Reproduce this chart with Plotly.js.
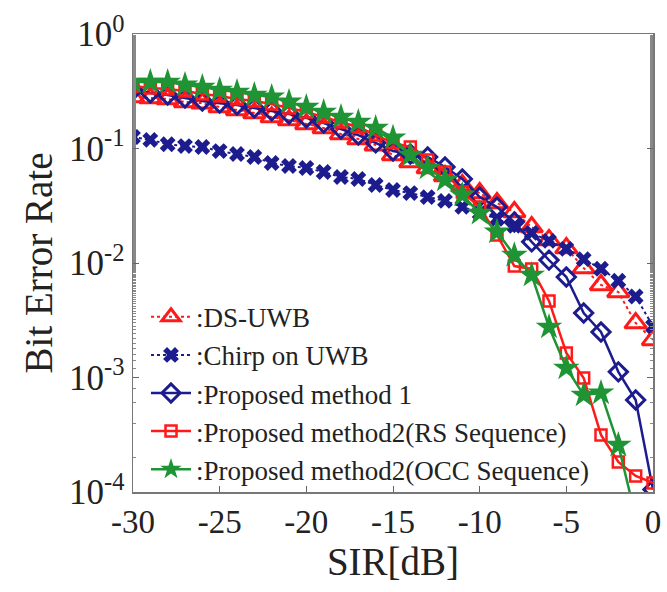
<!DOCTYPE html>
<html>
<head>
<meta charset="utf-8">
<script src="https://cdn.plot.ly/plotly-3.0.1.min.js"></script>
<style>html,body{margin:0;padding:0;background:#fff;}#chart{width:667px;height:592px;}</style>
</head>
<body>
<div id="chart"></div>
<script>
var sir = [-30,-29,-28,-27,-26,-25,-24,-23,-22,-21,-20,-19,-18,-17,-16,-15,-14,-13,-12,-11,-10,-9,-8,-7,-6,-5,-4,-3,-2,-1,0];

var dsUwb = [0.282,0.276,0.271,0.255,0.249,0.230,0.217,0.204,0.188,0.177,0.164,0.151,0.134,0.121,0.107,0.0878,0.0762,0.0676,0.0575,0.048,0.0408,0.0334,0.0279,0.0206,0.0159,0.0135,0.00904,0.00643,0.00558,0.00299,0.00213];

var chirp = [0.126,0.119,0.109,0.105,0.103,0.095,0.0895,0.0843,0.0747,0.0703,0.0676,0.0623,0.0564,0.0542,0.048,0.0434,0.0408,0.0376,0.0349,0.0309,0.0273,0.0243,0.0211,0.0183,0.0156,0.0133,0.0108,0.0089,0.0070,0.0051,0.0028];

var method1 = [0.324,0.305,0.293,0.276,0.260,0.249,0.240,0.226,0.213,0.200,0.185,0.167,0.148,0.131,0.112,0.0951,0.0895,0.0843,0.0689,0.0542,0.0377,0.0308,0.0228,0.0153,0.0106,0.00755,0.00366,0.00250,0.00112,0.000636,0.000105];

var method2RS = [0.352,0.338,0.331,0.318,0.299,0.288,0.271,0.260,0.245,0.226,0.208,0.188,0.170,0.154,0.131,0.112,0.103,0.0794,0.0623,0.0417,0.0308,0.0176,0.00941,0.00887,0.00466,0.00164,0.000990,0.000315,0.000183,0.000138,0.000120];

var method2OCC = [0.381,0.381,0.381,0.359,0.344,0.324,0.311,0.293,0.282,0.255,0.230,0.208,0.188,0.170,0.151,0.124,0.0878,0.0676,0.0531,0.0393,0.0273,0.0187,0.0117,0.00785,0.00276,0.00121,0.000703,0.000733,0.000257,0.0000605,0.00003];

var seriesNames = [':DS-UWB', ':Chirp on UWB', ':Proposed method 1', ':Proposed method2(RS Sequence)', ':Proposed method2(OCC Sequence)'];

var yTickVals = [1, 0.1, 0.01, 0.001, 0.0001];
var yTickText = ['10<sup>0</sup>', '10<sup>-1</sup>', '10<sup>-2</sup>', '10<sup>-3</sup>', '10<sup>-4</sup>'];
var xTickVals = [-30, -25, -20, -15, -10, -5, 0];
var xTickText = ['-30', '-25', '-20', '-15', '-10', '-5', '0'];

var RED = '#ff1a1a', NAVY = '#1c1c8e', GREEN = '#1f9434';

var traces = [
  {x: sir, y: dsUwb, name: seriesNames[0], mode: 'lines+markers',
   line: {color: RED, width: 2, dash: 'dot'},
   marker: {symbol: 'triangle-up-open', size: 19, color: RED, line: {width: 3, color: RED}}},
  {x: sir, y: chirp, name: seriesNames[1], mode: 'lines+markers',
   line: {color: NAVY, width: 2, dash: 'dot'},
   marker: {symbol: 'x', size: 14, color: NAVY, line: {width: 0}}},
  {x: sir, y: method1, name: seriesNames[2], mode: 'lines+markers',
   line: {color: NAVY, width: 2.5},
   marker: {symbol: 'diamond-open', size: 14, color: NAVY, line: {width: 3, color: NAVY}}},
  {x: sir, y: method2RS, name: seriesNames[3], mode: 'lines+markers',
   line: {color: RED, width: 2.5},
   marker: {symbol: 'square-open', size: 11, color: RED, line: {width: 2.5, color: RED}}},
  {x: sir, y: method2OCC, name: seriesNames[4], mode: 'lines+markers',
   line: {color: GREEN, width: 2.5},
   marker: {symbol: 'star', size: 20, color: GREEN, line: {width: 0}}}
];

var layout = {
  width: 667, height: 592,
  margin: {l: 133, r: 14, t: 34, b: 100},
  paper_bgcolor: '#fff', plot_bgcolor: '#fff',
  font: {family: '"Liberation Serif", "Times New Roman", serif', color: '#222'},
  showlegend: true,
  legend: {x: 0.025, y: 0.435, xanchor: 'left', yanchor: 'top',
           bgcolor: 'rgba(0,0,0,0)', font: {size: 27, color: '#222'},
           tracegroupgap: 0, itemwidth: 40},
  xaxis: {range: [-30, 0], tickvals: xTickVals, ticktext: xTickText,
          ticks: 'inside', ticklen: 6, tickcolor: '#666', showline: true, linecolor: '#777', linewidth: 1.5,
          mirror: true, showgrid: false, zeroline: false,
          tickfont: {size: 33}, title: {text: 'SIR[dB]', font: {size: 39}, standoff: 8}},
  yaxis: {type: 'log', range: [-4, 0], tickvals: yTickVals, ticktext: yTickText,
          ticks: 'inside', ticklen: 6, tickcolor: '#666', showline: true, linecolor: '#777', linewidth: 1.5,
          mirror: 'allticks', showgrid: false, zeroline: false,
          minor: {ticks: 'inside', ticklen: 3, tickcolor: '#888', showgrid: false},
          tickfont: {size: 35}, title: {text: 'Bit Error Rate', font: {size: 39}, standoff: 4}}
};

Plotly.newPlot('chart', traces, layout, {displayModeBar: false, staticPlot: true});
</script>
</body>
</html>
